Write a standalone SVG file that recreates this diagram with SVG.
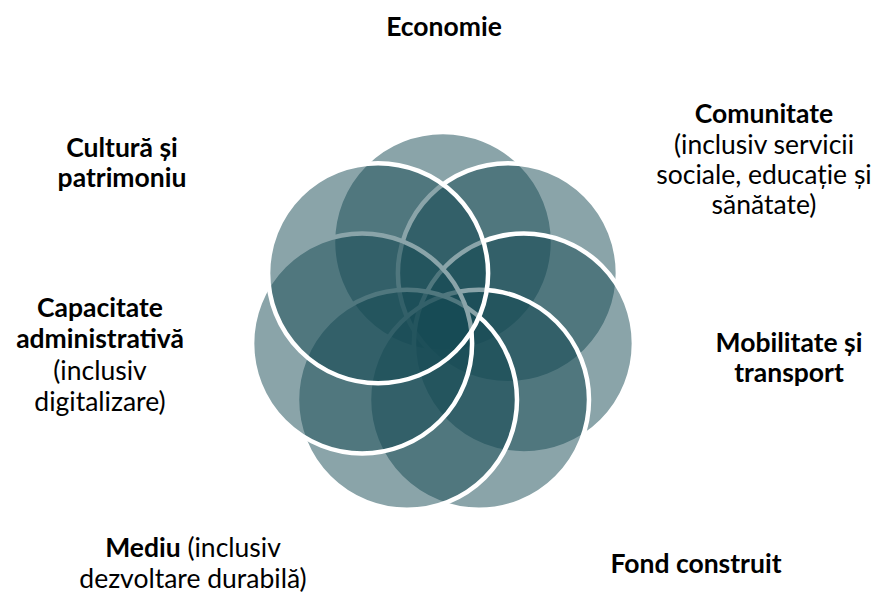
<svg xmlns="http://www.w3.org/2000/svg" width="880" height="596" viewBox="0 0 880 596">
<style>
.c{fill:#154953;fill-opacity:0.5;stroke:#fff;stroke-width:4.5}
text{font-family:Lato,"Open Sans","Liberation Sans",sans-serif;font-size:26.5px;fill:#000;text-anchor:middle}
.b{font-weight:bold}
</style>
<rect width="880" height="596" fill="#fff"/>
<g id="flower">
<g id="n-economie"><circle class="c" cx="443" cy="242" r="110"/></g>
<g id="n-comunitate"><circle class="c" cx="507.9" cy="273.2" r="110"/></g>
<g id="n-mobilitate"><circle class="c" cx="523.9" cy="343.5" r="110"/></g>
<g id="n-fond"><circle class="c" cx="479" cy="399.8" r="110"/></g>
<g id="n-mediu"><circle class="c" cx="407" cy="399.8" r="110"/></g>
<g id="n-capacitate"><circle class="c" cx="362.1" cy="343.5" r="110"/></g>
<g id="n-cultura"><circle class="c" cx="378.1" cy="273.2" r="110"/></g>
</g>
<g id="connectors"></g>
<g id="labels">
<g id="l-economie"><text class="b" x="444" y="36">Economie</text></g>
<g id="l-comunitate">
<text class="b" x="764" y="123">Comunitate</text>
<text x="764" y="154">(inclusiv servicii</text>
<text x="764" y="184">sociale, educație și</text>
<text x="764" y="214">sănătate)</text>
</g>
<g id="l-mobilitate">
<text class="b" x="789" y="352">Mobilitate și</text>
<text class="b" x="789" y="382">transport</text>
</g>
<g id="l-fond"><text class="b" x="696" y="573">Fond construit</text></g>
<g id="l-mediu">
<text x="193" y="557"><tspan class="b">Mediu</tspan> (inclusiv</text>
<text x="193" y="588">dezvoltare durabilă)</text>
</g>
<g id="l-capacitate">
<text class="b" x="100" y="317">Capacitate</text>
<text class="b" x="100" y="348">administrativă</text>
<text x="100" y="380">(inclusiv</text>
<text x="100" y="411">digitalizare)</text>
</g>
<g id="l-cultura">
<text class="b" x="122" y="157">Cultură și</text>
<text class="b" x="122" y="187">patrimoniu</text>
</g>
</g>
</svg>
